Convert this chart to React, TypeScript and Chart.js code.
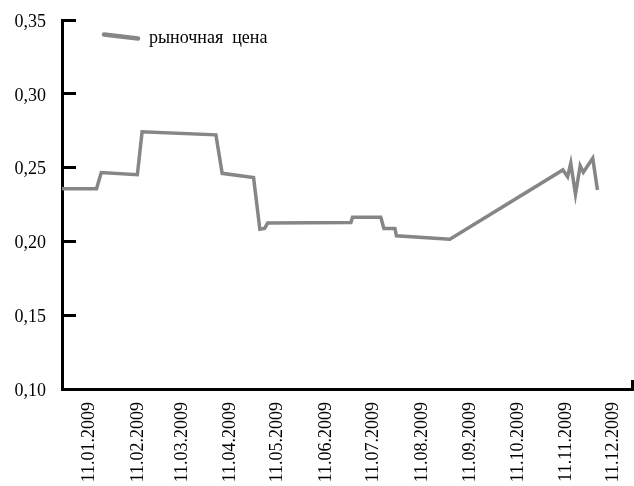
import React, { useEffect, useRef } from "react";
import { Chart, registerables } from "chart.js";

Chart.register(...registerables);

const seriesName = "рыночная  цена";

const dates = [
  "2008-12-26", "2009-01-17", "2009-01-20", "2009-02-12", "2009-02-15",
  "2009-04-03", "2009-04-07", "2009-04-27", "2009-05-01", "2009-05-04",
  "2009-05-06", "2009-06-28", "2009-06-29", "2009-07-17", "2009-07-19",
  "2009-07-26", "2009-07-27", "2009-08-30", "2009-11-10", "2009-11-13",
  "2009-11-15", "2009-11-18", "2009-11-21", "2009-11-23", "2009-11-29",
  "2009-12-02",
];

const prices = [
  0.2357, 0.2357, 0.2467, 0.2452, 0.2743,
  0.2722, 0.2461, 0.2432, 0.2082, 0.2088,
  0.2125, 0.2128, 0.2164, 0.2164, 0.2088,
  0.2088, 0.2038, 0.2015, 0.2484, 0.2438,
  0.2529, 0.2319, 0.2513, 0.2469, 0.2563,
  0.2348,
];

const xTickLabels = [
  "11.01.2009", "11.02.2009", "11.03.2009", "11.04.2009", "11.05.2009", "11.06.2009",
  "11.07.2009", "11.08.2009", "11.09.2009", "11.10.2009", "11.11.2009", "11.12.2009",
];

const yTickValues = [0.1, 0.15, 0.2, 0.25, 0.3, 0.35];

const xStart = "2008-12-26";
const xEnd = "2009-12-24";

const LINE_COLOR = "#868688";
const FONT_FAMILY = '"Liberation Serif", "Times New Roman", serif';

const BASE = Date.UTC(2009, 0, 1);
const isoToDay = (iso: string) => {
  const [y, m, d] = iso.split("-").map(Number);
  return Math.round((Date.UTC(y, m - 1, d) - BASE) / 86400000);
};
const dmyToDay = (s: string) => {
  const [d, m, y] = s.split(".").map(Number);
  return Math.round((Date.UTC(y, m - 1, d) - BASE) / 86400000);
};

const xMinDay = isoToDay(xStart);
const xMaxDay = isoToDay(xEnd);
const tickDays = xTickLabels.map(dmyToDay);
const labelByDay = new Map<number, string>();
xTickLabels.forEach((l, i) => labelByDay.set(tickDays[i], l));

const legendPlugin = {
  id: "customLegend",
  afterDraw(chart: any) {
    const ctx = chart.ctx;
    ctx.save();
    ctx.strokeStyle = LINE_COLOR;
    ctx.lineWidth = 4.5;
    ctx.lineCap = "round";
    ctx.beginPath();
    ctx.moveTo(104, 34.5);
    ctx.lineTo(138, 38.5);
    ctx.stroke();
    ctx.fillStyle = "#000";
    ctx.font = `18px ${FONT_FAMILY}`;
    ctx.textBaseline = "alphabetic";
    ctx.textAlign = "left";
    ctx.fillText(seriesName, 149, 43);
    ctx.restore();
  },
};

export default function App() {
  const ref = useRef<HTMLCanvasElement | null>(null);

  useEffect(() => {
    if (!ref.current) return;
    const points = dates.map((d, i) => ({ x: isoToDay(d), y: prices[i] }));
    const font = { family: FONT_FAMILY, size: 18 };
    const chart = new Chart(ref.current, {
      type: "line",
      data: {
        datasets: [
          {
            label: seriesName,
            data: points,
            borderColor: LINE_COLOR,
            borderWidth: 3.5,
            pointRadius: 0,
            tension: 0,
            fill: false,
          },
        ],
      },
      options: {
        animation: false,
        responsive: false,
        layout: { padding: { top: 20, right: 2, left: 0, bottom: 0 } },
        plugins: {
          legend: { display: false },
          tooltip: { enabled: false },
        },
        scales: {
          x: {
            type: "linear",
            min: xMinDay,
            max: xMaxDay,
            afterBuildTicks: (s: any) => {
              s.ticks = [...tickDays.map((v) => ({ value: v })), { value: xMaxDay }];
            },
            afterFit: (s: any) => {
              s.height = 97;
              s.paddingLeft = 0;
              s.paddingRight = 0;
            },
            ticks: {
              autoSkip: false,
              maxRotation: 90,
              minRotation: 90,
              padding: 22,
              labelOffset: 2,
              font,
              color: "#000",
              callback: (v: any) => labelByDay.get(Number(v)) ?? "",
            },
            grid: {
              drawOnChartArea: false,
              tickLength: -9,
              lineWidth: 3,
              color: (c: any) =>
                c.tick && c.tick.value === xMaxDay ? "#000" : "rgba(0,0,0,0)",
            },
            border: { display: true, color: "#000", width: 3 },
          },
          y: {
            type: "linear",
            min: 0.1,
            max: 0.35,
            afterBuildTicks: (s: any) => {
              s.ticks = yTickValues.map((v) => ({ value: v }));
            },
            afterFit: (s: any) => {
              s.width = 62;
              s.paddingTop = 0;
              s.paddingBottom = 0;
            },
            ticks: {
              padding: 30,
              labelOffset: 2,
              font,
              color: "#000",
              callback: (v: any) => Number(v).toFixed(2).replace(".", ","),
            },
            grid: {
              drawOnChartArea: false,
              tickLength: -14,
              lineWidth: 3,
              color: "#000",
            },
            border: { display: true, color: "#000", width: 3 },
          },
        },
      },
      plugins: [legendPlugin],
    });
    return () => chart.destroy();
  }, []);

  return (
    <canvas
      ref={ref}
      width={634}
      height={486}
      style={{ position: "absolute", left: 0, top: 0, width: 634, height: 486 }}
    />
  );
}
